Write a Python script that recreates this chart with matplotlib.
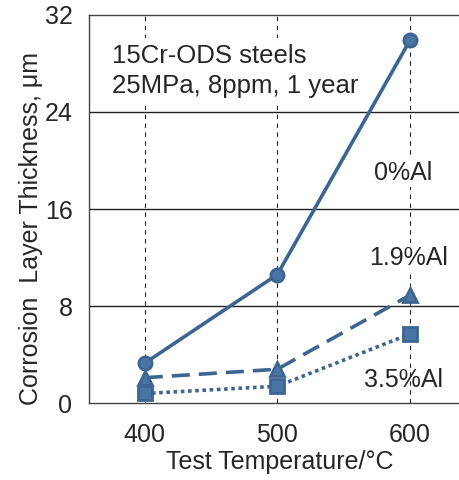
import matplotlib.pyplot as plt

plt.rcParams['font.family'] = ['Liberation Sans', 'DejaVu Sans']

# test temperatures and layer thickness (um)
temps = [400, 500, 600]
al_0 = [3.3, 10.6, 29.9]
al_19 = [2.1, 2.8, 8.9]
al_35 = [0.8, 1.4, 5.7]
yticks = [0, 8, 16, 24, 32]

col = "#3d6591"
txt = "#262626"

fig = plt.figure(figsize=(4.59, 4.80), dpi=100)
ax = fig.add_axes([0.194, 0.160, 0.806, 0.809])

# grid
for y in yticks[1:-1]:
    ax.axhline(y, color="#222222", linewidth=1.0, zorder=1)
for t in temps:
    ax.axvline(t, color="#222222", linestyle=(0, (4, 4)), linewidth=0.8, zorder=1)

ax.plot(temps, al_0, color=col, linewidth=2.6, marker="o", markersize=9.5,
        markerfacecolor="#4a74a3", markeredgecolor=col, markeredgewidth=2, zorder=5)
ax.plot(temps, al_19, color=col, linewidth=2.6, linestyle=(0, (5, 2.5)), marker="^",
        markersize=9.5, markerfacecolor="#4a74a3", markeredgecolor=col, markeredgewidth=2, zorder=5)
ax.plot(temps, al_35, color=col, linewidth=2.6, linestyle=(0, (1, 1)), marker="s",
        markersize=9.5, markerfacecolor="#4a74a3", markeredgecolor=col, markeredgewidth=2, zorder=5)

box = dict(facecolor="white", edgecolor="none", pad=4)
ax.text(375.5, 27.4, "15Cr-ODS steels\n25MPa, 8ppm, 1 year", fontsize=18.5, color=txt,
        ha="left", va="center", linespacing=1.32, bbox=box, zorder=3)
ax.text(595, 19.0, "0%Al", fontsize=18, color=txt, ha="center", va="center",
        bbox=dict(facecolor="white", edgecolor="none", pad=2), zorder=3)
ax.text(599, 12.0, "1.9%Al", fontsize=18, color=txt, ha="center", va="center",
        bbox=dict(facecolor="white", edgecolor="none", pad=2), zorder=3)
ax.text(595, 1.9, "3.5%Al", fontsize=18, color=txt, ha="center", va="center", zorder=3)

ax.set_xlim(358, 637)
ax.set_ylim(0, 32)
ax.set_xticks(temps)
ax.set_yticks(yticks)
ax.tick_params(length=0, labelsize=18, labelcolor=txt)
ax.tick_params(axis="x", pad=14)
ax.tick_params(axis="y", pad=12)
ax.set_xlabel("Test Temperature/\u00b0C", fontsize=18, color=txt)
ax.set_ylabel("Corrosion  Layer Thickness, \u03bcm", fontsize=18, color=txt)
ax.xaxis.set_label_coords(0.516, -0.12)
ax.yaxis.set_label_coords(-0.125, 0.45)

for s in ["left", "bottom", "top"]:
    ax.spines[s].set_color("#444444")
    ax.spines[s].set_linewidth(1.0)
ax.spines["right"].set_visible(False)

fig.savefig("out.png", dpi=100)
